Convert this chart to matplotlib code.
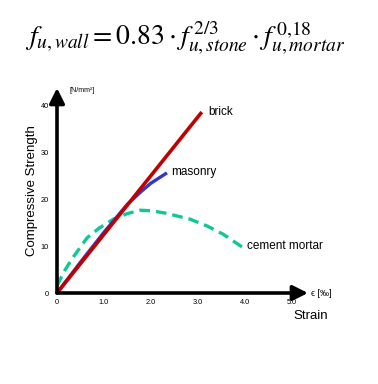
import matplotlib
matplotlib.use("Agg")
import matplotlib.pyplot as plt

plt.rcParams["font.family"] = ["Liberation Sans", "DejaVu Sans"]
plt.rcParams["mathtext.fontset"] = "stix"

# (strain in per mille, stress in N/mm2)
brick_x = [0.0, 3.08]
brick_y = [0.0, 38.7]
masonry_x = [0.0, 0.5, 1.0, 1.5, 1.8, 2.0, 2.2, 2.34]
masonry_y = [0.0, 6.6, 13.0, 19.0, 21.8, 23.5, 24.8, 25.7]
mortar_x = [0.0, 0.15, 0.34, 0.64, 0.9, 1.2, 1.5, 1.77, 2.0, 2.3, 2.83, 3.2, 3.53, 3.96]
mortar_y = [1.5, 4.6, 7.6, 11.8, 13.9, 15.8, 17.0, 17.7, 17.6, 17.1, 15.8, 14.3, 12.6, 9.7]
xticks = [0, 1, 2, 3, 4, 5]
xticklabels = ["0", "1.0", "2.0", "3.0", "4.0", "5.0"]
yticks = [0, 10, 20, 30, 40]

fig = plt.figure(figsize=(3.78, 3.84), dpi=100)
ax = fig.add_axes([57 / 378, 1 - 293 / 384, 251 / 378, 205 / 384])
ax.set_xlim(0, 5.34)
ax.set_ylim(0, 43.85)
for s in ax.spines.values():
    s.set_visible(False)

# axes arrows
arrow = {"arrowstyle": "-|>,head_length=0.9,head_width=0.45", "lw": 2.6, "color": "black",
         "shrinkA": 0, "shrinkB": 0}
ax.annotate("", xy=(5.34, 0), xytext=(0, 0), arrowprops=arrow, annotation_clip=False)
ax.annotate("", xy=(0, 43.85), xytext=(0, 0), arrowprops=arrow, annotation_clip=False)

ax.plot(mortar_x, mortar_y, color="#10c896", lw=2.4, dashes=(3.2, 1.8), clip_on=False)
ax.plot(masonry_x, masonry_y, color="#3535c8", lw=2.4, clip_on=False, solid_capstyle="butt")
ax.plot(brick_x, brick_y, color="#c00000", lw=2.6, clip_on=False, solid_capstyle="butt")

ax.text(3.22, 38.7, "brick", fontsize=8.5, va="center", ha="left")
ax.text(2.42, 25.8, "masonry", fontsize=8.5, va="center", ha="left")
ax.text(4.05, 10.0, "cement mortar", fontsize=8.5, va="center", ha="left")

ax.set_xticks(xticks)
ax.set_xticklabels(xticklabels)
ax.set_yticks(yticks)
ax.tick_params(axis="both", length=0, labelsize=5.3)
ax.tick_params(axis="x", pad=4)
ax.tick_params(axis="y", pad=6)

ax.set_ylabel("Compressive Strength", fontsize=9.5, labelpad=1.5)
fig.text(293 / 378, 1 - 316 / 384, "Strain", fontsize=9.5, ha="left", va="center")
fig.text(311 / 378, 1 - 293 / 384, "\u03f5 [\u2030]", fontsize=6.5, ha="left", va="center")
fig.text(70 / 378, 1 - 91 / 384, "[N/mm\u00b2]", fontsize=5, ha="left", va="center")

fig.text(185 / 378, 1 - 38 / 384,
         r"$f_{u,wall} = 0.83 \cdot f_{u,stone}^{\,2/3} \cdot f_{u,mortar}^{\,0{,}18}$",
         fontsize=20, ha="center", va="center")

fig.savefig("out.png", dpi=100)
